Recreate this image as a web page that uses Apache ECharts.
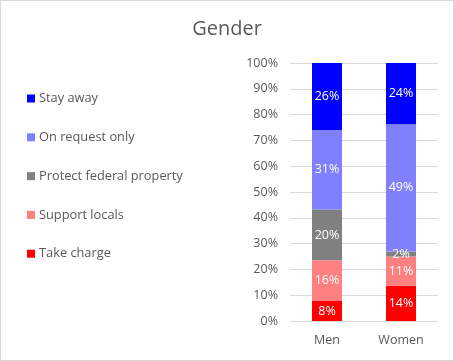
<!DOCTYPE html>
<html>
<head>
<meta charset="utf-8">
<script src="https://cdn.jsdelivr.net/npm/echarts@6/dist/echarts.min.js"></script>
<style>
html,body{margin:0;padding:0;background:#fff;}
#c{position:absolute;left:0;top:0;width:452px;height:359px;border:1px solid #D9D9D9;}
</style>
</head>
<body>
<div id="c"></div>
<script>
const categories = ['Men', 'Women'];
const seriesNames = ['Take charge', 'Support locals', 'Protect federal property', 'On request only', 'Stay away'];
const takeCharge = [7.8, 13.6];
const supportLocals = [15.7, 11.4];
const protectFederal = [19.7, 1.9];
const onRequestOnly = [30.8, 49.4];
const stayAway = [26.0, 23.7];
const colors = ['#FF0000', '#FF8080', '#808080', '#8080FF', '#0000FF'];
const yTicks = [0, 10, 20, 30, 40, 50, 60, 70, 80, 90, 100];

const values = [takeCharge, supportLocals, protectFederal, onRequestOnly, stayAway];
const font = '"Open Sans", "Noto Sans", "DejaVu Sans", sans-serif';

const chart = echarts.init(document.getElementById('c'), null, {renderer: 'canvas'});
chart.setOption({
  animation: false,
  textStyle: {fontFamily: font},
  title: {
    text: 'Gender',
    left: 'center',
    top: 13,
    textStyle: {color: '#595959', fontSize: 20, fontWeight: 'normal', fontFamily: font}
  },
  legend: {
    orient: 'vertical',
    left: 21,
    top: 86,
    itemWidth: 8,
    itemHeight: 8,
    itemGap: 25.8,
    icon: 'rect',
    data: seriesNames.slice().reverse(),
    textStyle: {color: '#595959', fontSize: 12.8, fontFamily: font, padding: [0, 0, 0, -1]}
  },
  grid: {left: 289, right: 15, top: 62, bottom: 39, containLabel: false},
  xAxis: {
    type: 'category',
    data: categories,
    axisLine: {show: false},
    axisTick: {show: false},
    axisLabel: {color: '#595959', fontSize: 12.5, margin: 13, fontFamily: font}
  },
  yAxis: {
    type: 'value',
    min: 0,
    max: 100,
    interval: 10,
    axisLine: {show: false},
    axisTick: {show: false},
    splitLine: {lineStyle: {color: '#D9D9D9', width: 1}},
    axisLabel: {
      color: '#595959', fontSize: 12.5, margin: 12, fontFamily: font,
      formatter: v => (yTicks.indexOf(v) >= 0 ? v + '%' : '')
    }
  },
  series: seriesNames.map((name, i) => ({
    name: name,
    type: 'bar',
    stack: 'total',
    barWidth: 30,
    data: values[i],
    itemStyle: {color: colors[i]},
    label: {
      show: true,
      position: 'inside',
      color: '#FFFFFF',
      fontSize: 12.5,
      fontFamily: font,
      formatter: p => Math.round(p.value) + '%'
    }
  }))
});
</script>
</body>
</html>
